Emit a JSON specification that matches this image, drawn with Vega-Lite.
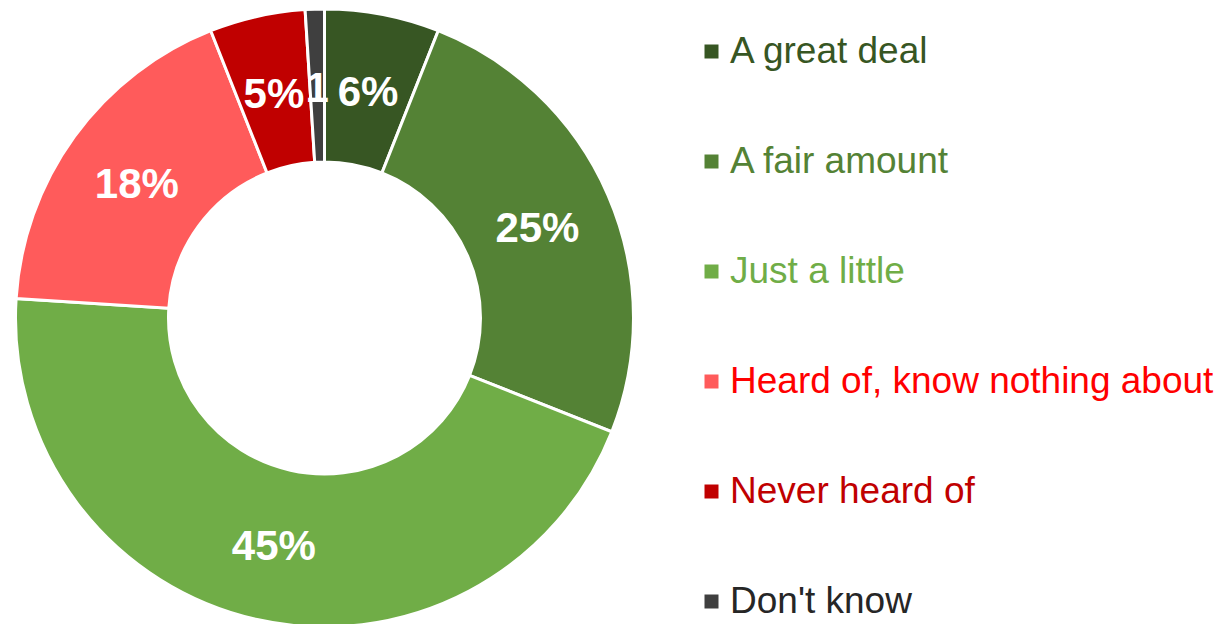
{
  "$schema": "https://vega.github.io/schema/vega-lite/v6.json",
  "width": 649,
  "height": 636,
  "padding": 0,
  "background": "white",
  "config": {"view": {"stroke": null}, "font": "Liberation Sans"},
  "data": {
    "values": [
      {"category": "A great deal", "value": 6, "label": "6%", "ord": 1},
      {"category": "A fair amount", "value": 25, "label": "25%", "ord": 2},
      {"category": "Just a little", "value": 45, "label": "45%", "ord": 3},
      {"category": "Heard of, know nothing about", "value": 18, "label": "18%", "ord": 4},
      {"category": "Never heard of", "value": 5, "label": "5%", "ord": 5},
      {"category": "Don't know", "value": 1, "label": "1", "ord": 6}
    ]
  },
  "encoding": {
    "theta": {"field": "value", "type": "quantitative", "stack": true},
    "order": {"field": "ord", "type": "quantitative"},
    "color": {
      "field": "category",
      "type": "nominal",
      "sort": null,
      "scale": {
        "domain": ["A great deal", "A fair amount", "Just a little", "Heard of, know nothing about", "Never heard of", "Don't know"],
        "range": ["#375623", "#548235", "#70AD47", "#FF5B5B", "#C00000", "#3F3F3F"]
      },
      "legend": {
        "title": null,
        "orient": "none",
        "legendX": 693,
        "legendY": 33,
        "padding": 0,
        "symbolType": "square",
        "symbolSize": 196,
        "symbolStrokeWidth": 0,
        "labelFontSize": 37,
        "labelFont": "Liberation Sans",
        "labelOffset": 0,
        "rowPadding": 72,
        "labelLimit": 600,
        "labelColor": {"expr": "datum.label === 'A great deal' ? '#375623' : datum.label === 'A fair amount' ? '#548235' : datum.label === 'Just a little' ? '#70AD47' : datum.label === 'Heard of, know nothing about' ? '#FF0000' : datum.label === 'Never heard of' ? '#C00000' : '#262626'"}
      }
    }
  },
  "layer": [
    {
      "mark": {"type": "arc", "outerRadius": 309, "innerRadius": 156, "stroke": "white", "strokeWidth": 3}
    },
    {
      "mark": {"type": "text", "radius": 232, "dy": 3, "fontSize": 42, "fontWeight": "bold", "font": "Liberation Sans", "fill": "white", "baseline": "middle", "align": "center"},
      "encoding": {
        "text": {"field": "label", "type": "nominal"},
        "color": {"value": "white"}
      }
    }
  ]
}
